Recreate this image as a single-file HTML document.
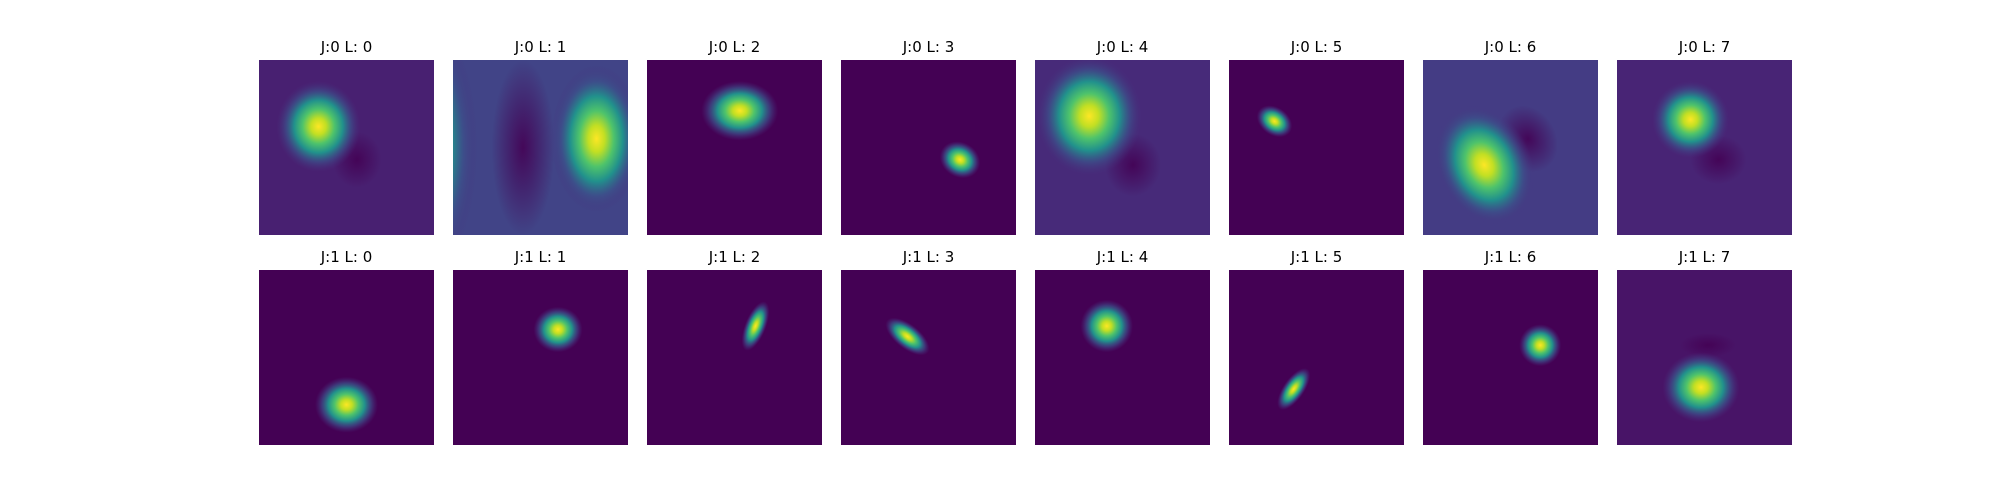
<!DOCTYPE html>
<html><head><meta charset="utf-8"><style>
html,body{margin:0;padding:0;background:#fff;}
svg{display:block;}
text{font-family:"DejaVu Sans","Liberation Sans",sans-serif;font-size:15px;fill:#000;}
</style></head><body>
<svg id="fig" width="2000" height="500" viewBox="0 0 2000 500" xmlns="http://www.w3.org/2000/svg">
<defs>
<radialGradient id="pos" cx="0.5" cy="0.5" r="0.5">
<stop offset="0" stop-color="#fde725"/>
<stop offset="0.18" stop-color="#c2df23"/>
<stop offset="0.38" stop-color="#4ec36b"/>
<stop offset="0.58" stop-color="#21918c"/>
<stop offset="0.78" stop-color="#3b528b" stop-opacity="0.7"/>
<stop offset="1" stop-color="#46327e" stop-opacity="0"/>
</radialGradient>
<radialGradient id="neg" cx="0.5" cy="0.5" r="0.5">
<stop offset="0" stop-color="#440154" stop-opacity="0.9"/>
<stop offset="1" stop-color="#440154" stop-opacity="0"/>
</radialGradient>
</defs>
</svg>
<script>
const rowTitles = [["J:0 L: 0","J:0 L: 1","J:0 L: 2","J:0 L: 3","J:0 L: 4","J:0 L: 5","J:0 L: 6","J:0 L: 7"],
                   ["J:1 L: 0","J:1 L: 1","J:1 L: 2","J:1 L: 3","J:1 L: 4","J:1 L: 5","J:1 L: 6","J:1 L: 7"]];
const backgrounds = [["#482071","#414487","#440154","#440154","#472a79","#440154","#443c84","#482475"],
                     ["#440154","#440154","#440154","#440154","#440154","#440154","#440154","#481467"]];
// positive blobs: [row, col, cx, cy, rx, ry, rotation(deg)] in panel fractions
const posBlobs = [
 [0,0,0.34,0.38,0.24,0.26,0],
 [0,1,0.82,0.45,0.26,0.42,0],
 [0,1,-0.22,0.5,0.36,0.8,0],
 [0,2,0.53,0.29,0.22,0.17,0],
 [0,3,0.68,0.57,0.12,0.1,30],
 [0,4,0.31,0.32,0.3,0.34,0],
 [0,5,0.26,0.35,0.11,0.08,35],
 [0,6,0.35,0.6,0.27,0.36,-25],
 [0,7,0.42,0.34,0.22,0.22,0],
 [1,0,0.5,0.77,0.18,0.16,0],
 [1,1,0.6,0.34,0.14,0.13,0],
 [1,2,0.62,0.32,0.06,0.15,22],
 [1,3,0.38,0.38,0.15,0.07,38],
 [1,4,0.41,0.32,0.15,0.15,0],
 [1,5,0.37,0.68,0.06,0.14,35],
 [1,6,0.67,0.43,0.12,0.12,0],
 [1,7,0.48,0.67,0.22,0.2,0]
];
const negBlobs = [
 [0,0,0.56,0.57,0.14,0.16,0],
 [0,1,0.4,0.5,0.18,0.5,0],
 [0,4,0.56,0.6,0.16,0.18,0],
 [0,6,0.6,0.45,0.16,0.2,-30],
 [0,7,0.58,0.57,0.16,0.14,0],
 [1,7,0.52,0.43,0.16,0.07,0]
];
const NS='http://www.w3.org/2000/svg';
const svg=document.getElementById('fig');
const X0=259, DX=194, W=175, ROWY=[60,270], TITLEY=[52,262];
function px(c,f){return X0+c*DX+f*W;}
function py(r,f){return ROWY[r]+f*W;}
const panels=[];
for(let r=0;r<2;r++){for(let c=0;c<8;c++){
  const g=document.createElementNS(NS,'g');
  
  
  const cp=document.createElementNS(NS,'clipPath');cp.setAttribute('id','cp'+r+c);
  const cr=document.createElementNS(NS,'rect');
  cr.setAttribute('x',px(c,0));cr.setAttribute('y',py(r,0));cr.setAttribute('width',W);cr.setAttribute('height',W);
  cp.appendChild(cr);svg.appendChild(cp);
  g.setAttribute('clip-path','url(#cp'+r+c+')');
  const bg=document.createElementNS(NS,'rect');
  
  
  bg.setAttribute('x',px(c,0));bg.setAttribute('y',py(r,0));bg.setAttribute('width',W);bg.setAttribute('height',W);
  bg.setAttribute('fill',backgrounds[r][c]);
  g.appendChild(bg);
  svg.appendChild(g);
  panels.push(g);
  const t=document.createElementNS(NS,'text');
  
  
  t.setAttribute('x',px(c,0.5));t.setAttribute('y',TITLEY[r]);t.setAttribute('text-anchor','middle');
  t.textContent=rowTitles[r][c];
  svg.appendChild(t);
}}
function drawBlob(b,grad,name){
  const [r,c,cx,cy,rx,ry,rot]=b;
  const e=document.createElementNS(NS,'ellipse');
  
  
  const X=px(c,cx),Y=py(r,cy);
  e.setAttribute('cx',X);e.setAttribute('cy',Y);
  e.setAttribute('rx',rx*W);e.setAttribute('ry',ry*W);
  e.setAttribute('fill','url(#'+grad+')');
  if(rot)e.setAttribute('transform','rotate('+rot+' '+X+' '+Y+')');
  panels[r*8+c].appendChild(e);
}
negBlobs.forEach(b=>drawBlob(b,'neg','negative-lobe'));
posBlobs.forEach(b=>drawBlob(b,'pos','positive-lobe'));
</script>
</body></html>
